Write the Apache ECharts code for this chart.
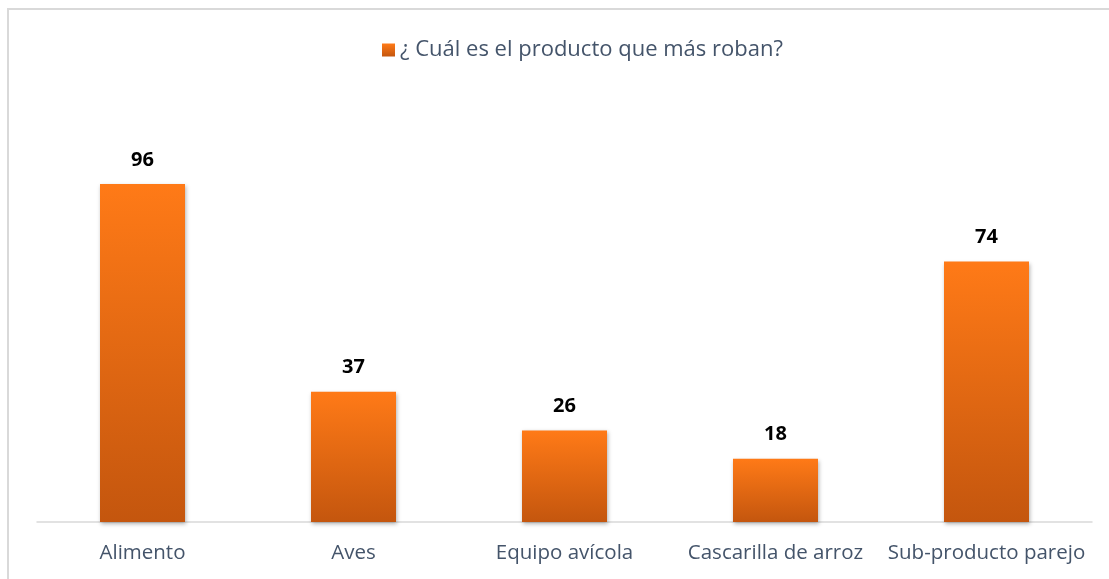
<!DOCTYPE html>
<html>
<head>
<meta charset="utf-8">
<script src="https://cdn.jsdelivr.net/npm/echarts@6/dist/echarts.min.js"></script>
<style>
  html, body { margin: 0; padding: 0; background: #fff; }
  #chart { width: 1109px; height: 579px; }
</style>
</head>
<body>
<div id="chart"></div>
<script>
const categories = ['Alimento', 'Aves', 'Equipo avícola', 'Cascarilla de arroz', 'Sub-producto parejo']
const values = [96, 37, 26, 18, 74]
const seriesName = '¿ Cuál es el producto que más roban?'

const chart = echarts.init(document.getElementById('chart'))

const barGradient = new echarts.graphic.LinearGradient(0, 0, 0, 1, [
  { offset: 0, color: '#FF7A17' },
  { offset: 1, color: '#C4560E' },
])

chart.setOption({
  backgroundColor: '#fff',
  textStyle: { fontFamily: 'Open Sans, sans-serif' },
  // outer chart border
  graphic: [
    {
      type: 'rect',
      shape: { x: 8, y: 9, width: 1200, height: 700 },
      style: { fill: 'none', stroke: '#D9D9D9', lineWidth: 2 },
      silent: true,
    },
  ],
  legend: {
    data: [{ name: seriesName, icon: 'rect' }],
    top: 34,
    left: 377,
    itemWidth: 13,
    itemHeight: 13,
    itemGap: 5,
    textStyle: { color: '#44546A', fontSize: 22, fontFamily: 'Open Sans, sans-serif' },
  },
  grid: {
    left: 37,
    width: 1055,
    top: 170,
    height: 352,
  },
  xAxis: {
    type: 'category',
    data: categories,
    axisLine: { lineStyle: { color: '#D9D9D9', width: 1.5 } },
    axisTick: { show: false },
    axisLabel: { color: '#44546A', fontSize: 20.5, margin: 21, interval: 0 },
  },
  yAxis: {
    type: 'value',
    min: 0,
    max: 100,
    show: false,
    splitLine: { show: false },
  },
  series: [
    {
      name: seriesName,
      type: 'bar',
      data: values,
      barWidth: 85,
      itemStyle: {
        color: barGradient,
        shadowColor: 'rgba(0,0,0,0.3)',
        shadowBlur: 4,
        shadowOffsetY: 2,
        shadowOffsetX: 1,
      },
      label: {
        show: true,
        position: 'top',
        distance: 14,
        color: '#000',
        fontSize: 20,
        fontWeight: 'bold',
      },
    },
  ],
})
</script>
</body>
</html>
